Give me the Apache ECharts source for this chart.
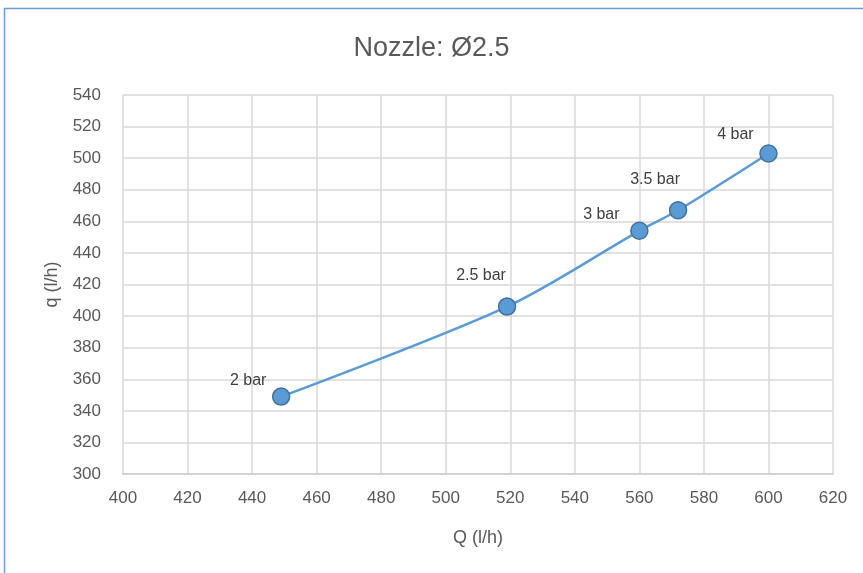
<!DOCTYPE html>
<html><head><meta charset="utf-8">
<script src="https://cdn.jsdelivr.net/npm/echarts@6/dist/echarts.min.js"></script>
<style>html,body{margin:0;padding:0;background:#fff}#c{width:863px;height:573px}</style>
</head><body><div id="c"></div>
<script>
const flowQ = [449, 519, 560, 572, 600];
const flowq = [349, 406, 454, 467, 503];
const pointLabels = ['2 bar', '2.5 bar', '3 bar', '3.5 bar', '4 bar'];
const labelOffsets = [[-33, -16], [-26, -31], [-38, -16], [-23, -31], [-33, -19]];

const chart = echarts.init(document.getElementById('c'));
const font = 'Liberation Sans, sans-serif';
const data = flowQ.map((x, i) => ({
  value: [x, flowq[i]],
  label: { show: true, formatter: pointLabels[i], position: 'inside', offset: labelOffsets[i] }
}));
chart.setOption({
  animation: false,
  title: { text: 'Nozzle: Ø2.5', left: 'center', top: 30,
    textStyle: { color: '#595959', fontSize: 27, fontWeight: 'normal', fontFamily: font } },
  graphic: [{ type: 'rect', shape: { x: 4.5, y: 8.5, width: 900, height: 600 },
    style: { fill: 'none', stroke: '#6a9fd8', lineWidth: 1.5 } }],
  grid: { left: 123, right: 30, top: 95, bottom: 99 },
  xAxis: { type: 'value', min: 400, max: 620, interval: 20,
    name: 'Q (l/h)', nameLocation: 'middle', nameGap: 55,
    nameTextStyle: { color: '#595959', fontSize: 18, fontFamily: font },
    axisLine: { show: true, lineStyle: { color: '#d0d0d0', width: 1.5 } },
    axisTick: { show: false },
    axisLabel: { color: '#595959', fontSize: 17, fontFamily: font, margin: 16 },
    splitLine: { lineStyle: { color: '#d9d9d9', width: 1.5 } } },
  yAxis: { type: 'value', min: 300, max: 540, interval: 20,
    name: 'q (l/h)', nameLocation: 'middle', nameGap: 62,
    nameTextStyle: { color: '#595959', fontSize: 18, fontFamily: font },
    axisLine: { show: false }, axisTick: { show: false },
    axisLabel: { color: '#595959', fontSize: 17, fontFamily: font, margin: 22 },
    splitLine: { lineStyle: { color: '#d9d9d9', width: 1.5 } } },
  series: [{ type: 'line', smooth: 0.3, data: data,
    symbol: 'circle', symbolSize: 17,
    lineStyle: { color: '#5b9bd5', width: 2.5 },
    itemStyle: { color: '#5b9bd5', borderColor: '#41719c', borderWidth: 1.5 },
    label: { color: '#404040', fontSize: 16, fontFamily: font } }]
});
</script></body></html>
